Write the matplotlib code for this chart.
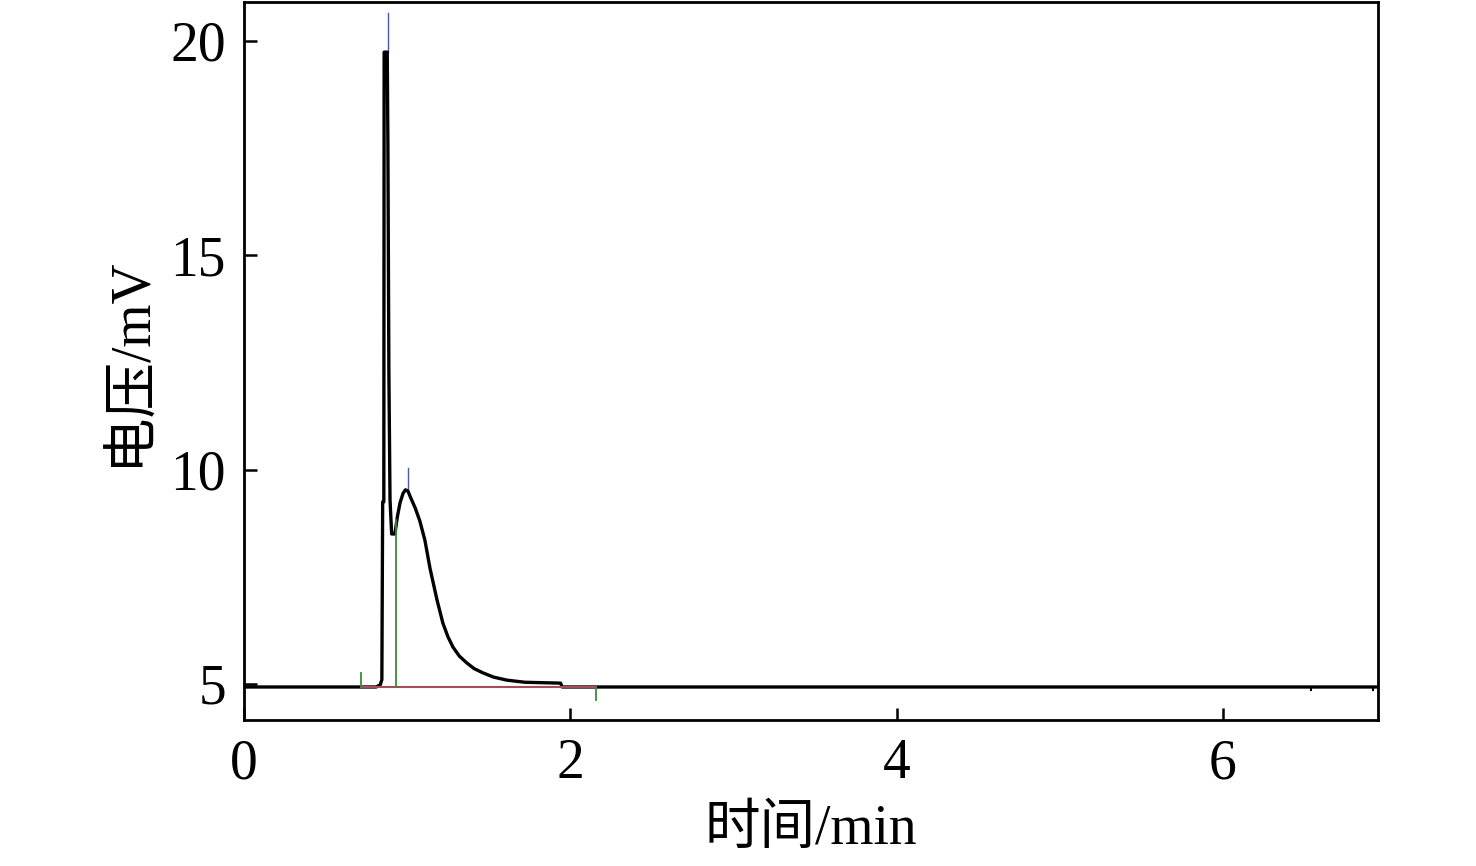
import matplotlib.pyplot as plt

plt.rcParams['font.family'] = ['Liberation Serif', 'Noto Sans CJK SC']
plt.rcParams['axes.unicode_minus'] = False

# chromatogram trace (time in min, voltage in mV)
time_min = [0.0, 0.81, 0.835, 0.845, 0.850, 0.857, 0.859, 0.878, 0.882, 0.888,
            0.895, 0.905, 0.925, 0.94, 0.956, 0.975, 0.99, 1.005, 1.02, 1.05,
            1.078, 1.109, 1.14, 1.183, 1.219, 1.25, 1.281, 1.32, 1.366, 1.41,
            1.464, 1.53, 1.611, 1.722, 1.94, 1.95, 6.95]
voltage = [4.93, 4.93, 4.98, 5.1, 9.25, 9.25, 19.74, 19.74, 17.6, 12.3,
           9.3, 8.5, 8.5, 8.9, 9.22, 9.45, 9.53, 9.5, 9.36, 9.1,
           8.8, 8.35, 7.7, 6.96, 6.42, 6.1, 5.86, 5.65, 5.49, 5.36,
           5.26, 5.16, 5.09, 5.04, 5.02, 4.93, 4.93]

# integration markers
peak_times = [0.882, 1.005]
peak_tops = [20.65, 10.04]
peak_bases = [19.74, 9.5]
start_times = [0.717, 0.93]
start_tops = [5.26, 8.83]
end_time = 2.157
end_bottom = 4.63
baseline = 4.93

fig = plt.figure(figsize=(14.76, 8.66), dpi=100)
ax = fig.add_axes([0.1653, 0.1686, 0.7683, 0.8291])

ax.plot(time_min, voltage, color='black', lw=2.4, zorder=3)
ax.plot([start_times[0], end_time], [baseline, baseline], color='#a0505a', lw=1.5, zorder=4)
for t, b, tp in zip(peak_times, peak_bases, peak_tops):
    ax.plot([t, t], [b, tp], color='#4a5aa8', lw=1.0, zorder=2)
for t, tp in zip(start_times, start_tops):
    ax.plot([t, t], [baseline, tp], color='#3a8a3a', lw=1.3, zorder=5)
ax.plot([end_time, end_time], [baseline, end_bottom], color='#3a8a3a', lw=1.3, zorder=5)
# small ticks on baseline
for t in [6.54, 6.92]:
    ax.plot([t, t], [baseline, baseline - 0.07], color='black', lw=1.5)

ax.set_xlim(0, 6.95)
ax.set_ylim(4.16, 20.91)
ax.set_xticks([0, 2, 4, 6])
ax.set_yticks([5, 10, 15, 20])
ax.tick_params(direction='in', length=9, width=1.8, labelsize=40, pad=13)
for s in ax.spines.values():
    s.set_linewidth(2.0)

ax.set_xlabel('时间/min', fontsize=40, labelpad=10)
ax.set_ylabel('电压/mV', fontsize=40, labelpad=10)

fig.savefig('out.png', dpi=100)
